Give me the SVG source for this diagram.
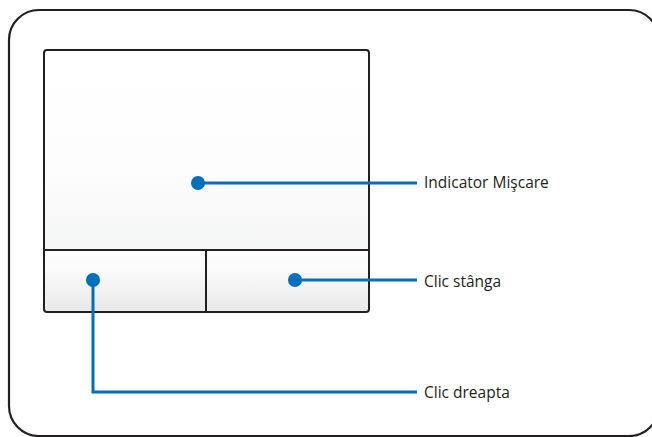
<svg xmlns="http://www.w3.org/2000/svg" width="652" height="437" viewBox="0 0 652 437">
<defs>
<linearGradient id="padGrad" x1="0" y1="0" x2="0" y2="1">
<stop offset="0" stop-color="#ffffff"/>
<stop offset="0.45" stop-color="#fdfdfd"/>
<stop offset="1" stop-color="#eeeff0"/>
</linearGradient>
<linearGradient id="btnGrad" x1="0" y1="0" x2="0" y2="1">
<stop offset="0" stop-color="#ffffff"/>
<stop offset="0.3" stop-color="#fafafa"/>
<stop offset="1" stop-color="#e9e9ea"/>
</linearGradient>
<style>
.frame{fill:#ffffff;stroke:#231f20;stroke-width:2.2}
.edge{fill:none;stroke:#231f20;stroke-width:2}
.lead{fill:none;stroke:#0070bc;stroke-width:3}
.dot{fill:#0070bc}
.lbl{font-family:"Open Sans","Liberation Sans",sans-serif;font-size:15.5px;fill:#231f20}
</style>
</defs>
<rect x="0" y="0" width="652" height="437" fill="#ffffff"/>
<rect id="outer-frame" class="frame" x="9" y="10" width="650" height="426" rx="30" ry="30"/>
<g id="touchpad">
<rect x="44" y="50" width="325" height="262" rx="3" fill="url(#padGrad)" stroke="none"/>
<rect x="44" y="250" width="162" height="62" fill="url(#btnGrad)"/>
<rect x="206" y="250" width="163" height="62" fill="url(#btnGrad)"/>
<rect class="edge" x="44" y="50" width="325" height="262" rx="3"/>
<line class="edge" x1="44" y1="250" x2="369" y2="250"/>
<line class="edge" x1="206" y1="250" x2="206" y2="312"/>
</g>
<g id="connectors">
<polyline class="lead" points="198,183 417,183"/>
<polyline class="lead" points="295,280 417,280"/>
<polyline class="lead" points="93,280 93,392 417,392"/>
</g>
<g id="indicator">
<circle class="dot" cx="198" cy="183" r="7"/>
<text class="lbl" x="424" y="188">Indicator Mişcare</text>
</g>
<g id="clic-stanga">
<circle class="dot" cx="295" cy="280" r="7"/>
<text class="lbl" x="424" y="287">Clic stânga</text>
</g>
<g id="clic-dreapta">
<circle class="dot" cx="93" cy="280" r="7"/>
<text class="lbl" x="424" y="398">Clic dreapta</text>
</g>
</svg>
